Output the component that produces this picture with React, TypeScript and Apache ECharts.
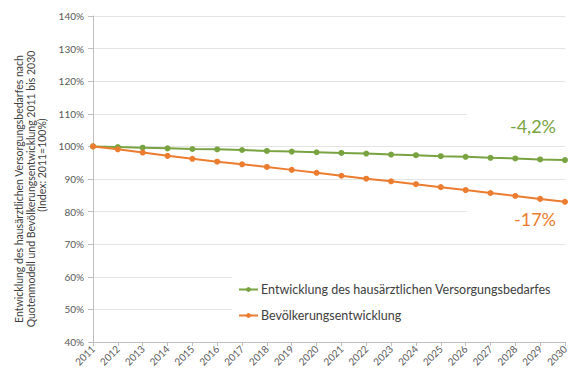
import React, { useEffect, useRef } from "react";
import * as echarts from "echarts";

// Jahre 2011–2030
const years: string[] = [
  "2011", "2012", "2013", "2014", "2015", "2016", "2017", "2018", "2019", "2020",
  "2021", "2022", "2023", "2024", "2025", "2026", "2027", "2028", "2029", "2030",
];

// Index 2011 = 100 %
const versorgungsbedarf: number[] = [
  100, 99.8, 99.6, 99.4, 99.2, 99.1, 98.9, 98.6, 98.4, 98.2,
  98.0, 97.8, 97.5, 97.3, 97.0, 96.8, 96.5, 96.3, 96.0, 95.8,
];
const bevoelkerung: number[] = [
  100, 99.1, 98.1, 97.1, 96.2, 95.3, 94.5, 93.7, 92.8, 91.9,
  91.0, 90.1, 89.3, 88.4, 87.5, 86.6, 85.7, 84.8, 83.9, 83.0,
];

const seriesNames: string[] = [
  "Entwicklung des hausärztlichen Versorgungsbedarfes",
  "Bevölkerungsentwicklung",
];
const changeLabels: string[] = ["-4,2%", "-17%"];
const yTitleLines: string[] = [
  "Entwicklung des hausärztlichen Versorgungsbedarfes nach",
  "Quotenmodell und Bevölkerungsentwicklung 2011 bis 2030",
  "(Index: 2011=100%)",
];

const GREEN = "#78a340";
const ORANGE = "#ec7c30";
const FONT = "Lato, 'Open Sans', sans-serif";

export default function App() {
  const ref = useRef<HTMLDivElement>(null);

  useEffect(() => {
    if (!ref.current) return;
    const chart = echarts.init(ref.current, null, { renderer: "svg" });
    chart.setOption({
      animation: false,
      backgroundColor: "#ffffff",
      textStyle: { fontFamily: FONT },
      grid: { left: 93, right: 7, top: 16, bottom: 31, containLabel: false },
      xAxis: {
        type: "category",
        data: years,
        boundaryGap: false,
        axisLine: { lineStyle: { color: "#bfbfbf" } },
        axisTick: { show: true, length: 4, lineStyle: { color: "#bfbfbf" } },
        axisLabel: { rotate: 45, fontSize: 10, color: "#595959", margin: 5, fontFamily: FONT },
        splitLine: { show: false },
      },
      yAxis: {
        type: "value",
        min: 40,
        max: 140,
        interval: 10,
        axisLine: { show: true, lineStyle: { color: "#bfbfbf" } },
        axisTick: { show: true, length: 5, lineStyle: { color: "#bfbfbf" } },
        axisLabel: { formatter: "{value}%", fontSize: 10, color: "#595959", margin: 9, fontFamily: FONT },
        splitLine: { show: true, lineStyle: { color: "#e3e3e3", width: 1 } },
      },
      legend: {
        orient: "vertical",
        left: 232,
        top: 277,
        padding: [6, 14, 6, 6],
        backgroundColor: "#ffffff",
        itemGap: 13,
        itemWidth: 19,
        itemHeight: 6,
        textStyle: { fontSize: 12.5, color: "#404040", fontFamily: FONT, padding: [0, 0, 0, -2] },
        data: seriesNames,
      },
      graphic: [
        { type: "rect", z: 1, shape: { x: 467, y: 106, width: 105, height: 34 }, style: { fill: "#ffffff" } },
        { type: "rect", z: 1, shape: { x: 467, y: 205, width: 105, height: 30 }, style: { fill: "#ffffff" } },
        {
          type: "text", z: 3, x: 533, y: 126,
          style: { text: changeLabels[0], fill: GREEN, font: `18px ${FONT}`, align: "center", verticalAlign: "middle" },
        },
        {
          type: "text", z: 3, x: 535, y: 219,
          style: { text: changeLabels[1], fill: ORANGE, font: `18px ${FONT}`, align: "center", verticalAlign: "middle" },
        },
        {
          type: "text", x: 19, y: 189, rotation: Math.PI / 2,
          style: { text: yTitleLines[0], fill: "#404040", font: `10.5px ${FONT}`, align: "center", verticalAlign: "middle" },
        },
        {
          type: "text", x: 31, y: 189, rotation: Math.PI / 2,
          style: { text: yTitleLines[1], fill: "#404040", font: `10.5px ${FONT}`, align: "center", verticalAlign: "middle" },
        },
        {
          type: "text", x: 42, y: 165, rotation: Math.PI / 2,
          style: { text: yTitleLines[2], fill: "#404040", font: `10.5px ${FONT}`, align: "center", verticalAlign: "middle" },
        },
      ],
      series: [
        {
          name: seriesNames[0],
          type: "line",
          data: versorgungsbedarf,
          symbol: "circle",
          symbolSize: 6,
          z: 3,
          itemStyle: { color: GREEN },
          lineStyle: { color: GREEN, width: 2 },
        },
        {
          name: seriesNames[1],
          type: "line",
          data: bevoelkerung,
          symbol: "circle",
          symbolSize: 6,
          z: 4,
          itemStyle: { color: ORANGE },
          lineStyle: { color: ORANGE, width: 2 },
        },
      ],
    });
    return () => chart.dispose();
  }, []);

  return (
    <div
      ref={ref}
      style={{ position: "fixed", left: 0, top: 0, width: 572, height: 373 }}
    />
  );
}
